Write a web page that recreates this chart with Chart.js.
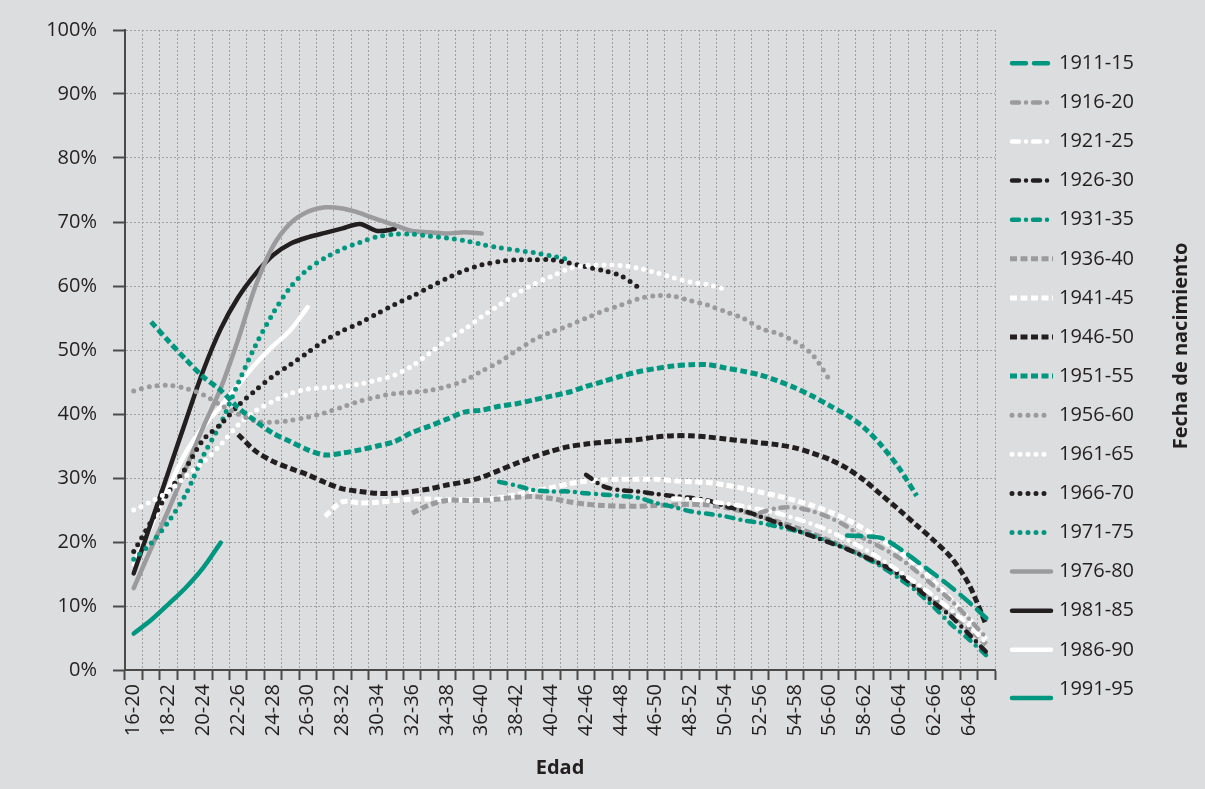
<!DOCTYPE html>
<html><head><meta charset="utf-8">
<script src="https://cdn.jsdelivr.net/npm/chart.js@4"></script>
<style>
html,body{margin:0;padding:0;background:#dcdddf;}
#wrap{position:relative;width:1205px;height:789px;}
</style></head><body>
<div id="wrap"><canvas id="c"></canvas></div>
<script>
const N = null;
const ages = ['16-20','17-21','18-22','19-23','20-24','21-25','22-26','23-27','24-28','25-29',
 '26-30','27-31','28-32','29-33','30-34','31-35','32-36','33-37','34-38','35-39',
 '36-40','37-41','38-42','39-43','40-44','41-45','42-46','43-47','44-48','45-49',
 '46-50','47-51','48-52','49-53','50-54','51-55','52-56','53-57','54-58','55-59',
 '56-60','57-61','58-62','59-63','60-64','61-65','62-66','63-67','64-68','65-69'];
const yTicks = [0,10,20,30,40,50,60,70,80,90,100];
const cohorts = ['1911-15','1916-20','1921-25','1926-30','1931-35','1936-40','1941-45','1946-50','1951-55',
 '1956-60','1961-65','1966-70','1971-75','1976-80','1981-85','1986-90','1991-95'];

const s1911 = [N,N,N,N,N,N,N,N,N,N, N,N,N,N,N,N,N,N,N,N, N,N,N,N,N,N,N,N,N,N, N,N,N,N,N,N,N,N,N,N, N,
 21.0,20.9,20.6,19.0,17.0,15.0,12.9,10.6,8.1];
const s1916 = [N,N,N,N,N,N,N,N,N,N, N,N,N,N,N,N,N,N,N,N, N,N,N,N,N,N,N,N,N,N, N,N,N,N,N,N,
 24.6,25.3,25.4,24.8,23.8,22.4,20.5,19.1,17.5,15.4,13.1,10.8,8.0,5.0];
const s1921 = [N,N,N,N,N,N,N,N,N,N, N,N,N,N,N,N,N,N,N,N, N,N,N,N,N,N,N,N,N,N, N,
 26.8,26.7,26.4,26.0,25.6,25.1,24.5,23.7,22.8,21.7,20.3,18.9,17.2,15.4,13.5,11.5,9.3,7.0,4.2];
const s1926 = [N,N,N,N,N,N,N,N,N,N, N,N,N,N,N,N,N,N,N,N, N,N,N,N,N,N,
 30.5,28.7,28.1,27.9,27.5,27.2,26.9,26.5,25.6,24.9,24.0,23.0,21.9,20.9,19.9,18.9,17.7,16.5,14.9,12.8,10.5,8.3,5.6,2.8];
const s1931 = [N,N,N,N,N,N,N,N,N,N, N,N,N,N,N,N,N,N,N,N, N,
 29.4,28.8,28.1,27.9,27.9,27.6,27.4,27.2,26.9,26.1,25.5,24.8,24.4,24.0,23.4,23.0,22.4,21.8,21.0,20.0,18.9,17.6,16.1,14.3,12.3,9.8,7.1,4.8,2.3];
const s1936 = [N,N,N,N,N,N,N,N,N,N, N,N,N,N,N,N,
 24.5,25.8,26.5,26.5,26.5,26.7,27.0,27.1,26.8,26.3,25.9,25.7,25.6,25.6,25.7,25.8,25.9,25.8,25.4,24.8,24.0,23.2,22.3,21.3,20.2,19.0,17.8,16.4,14.8,13.0,11.0,8.8,6.5,4.0];
const s1941 = [N,N,N,N,N,N,N,N,N,N, N,
 24.0,26.3,26.1,26.2,26.5,26.7,26.7,26.6,26.6,26.6,26.9,27.4,28.0,28.5,29.1,29.5,29.7,29.8,29.8,29.8,29.6,29.4,29.3,28.9,28.4,27.8,27.2,26.5,25.7,24.7,23.5,22.0,20.3,18.5,16.3,13.8,11.0,8.0,4.8];
const s1946 = [N,N,N,N,N,N,
 36.8,34.2,32.6,31.5,30.5,29.3,28.3,27.9,27.6,27.6,27.9,28.3,28.9,29.4,30.1,31.2,32.3,33.3,34.2,34.9,35.3,35.6,35.8,36.0,36.4,36.6,36.6,36.4,36.1,35.8,35.5,35.2,34.7,33.9,32.9,31.5,29.6,27.3,25.0,22.6,20.2,17.5,13.4,7.0];
const s1951 = [N,
 54.4,51.4,48.5,45.8,43.7,41.0,38.9,37.0,35.7,34.4,33.6,33.9,34.4,35.0,35.7,37.1,38.1,39.2,40.3,40.6,41.2,41.6,42.2,42.8,43.4,44.3,45.1,45.9,46.6,47.1,47.5,47.7,47.7,47.2,46.7,46.1,45.2,44.1,42.8,41.3,39.8,37.8,35.0,31.5,27.2,
 N,N,N,N];
const s1956 = [43.6,44.3,44.5,44.0,43.0,41.4,40.0,38.9,38.7,39.0,39.5,40.2,41.1,42.0,42.7,43.2,43.4,43.7,44.3,45.2,46.7,48.1,49.9,51.6,52.8,53.8,55.0,56.1,57.0,58.0,58.5,58.4,57.7,57.0,56.0,55.0,53.4,52.6,51.3,49.3,45.3,
 N,N,N,N,N,N,N,N,N];
const s1961 = [25.0,26.3,27.9,30.3,32.5,35.2,38.3,40.5,42.0,43.2,43.9,44.1,44.3,44.7,45.3,46.1,47.5,49.5,51.6,53.2,55.2,57.0,58.8,60.3,61.5,62.7,63.2,63.3,63.2,62.8,62.1,61.3,60.6,60.2,59.5,
 N,N,N,N,N,N,N,N,N,N, N,N,N,N,N];
const s1966 = [18.5,23.2,27.8,31.6,36.0,38.4,41.3,43.7,45.9,47.7,49.6,51.5,53.0,54.2,55.7,57.1,58.4,59.8,61.2,62.4,63.3,63.8,64.1,64.1,64.1,63.6,63.0,62.4,61.6,59.8,
 N,N,N,N,N,N,N,N,N,N, N,N,N,N,N,N,N,N,N,N];
const s1971 = [17.3,19.8,23.2,27.5,33.5,38.5,44.8,50.7,55.7,59.8,62.6,64.4,65.8,66.8,67.7,68.1,68.1,67.8,67.5,67.1,66.5,66.0,65.6,65.2,64.7,64.1,
 N,N,N,N,N,N,N,N,N,N, N,N,N,N,N,N,N,N,N,N, N,N,N,N];
const s1976 = [12.8,19.0,25.0,31.5,38.0,44.0,51.6,60.0,66.2,69.8,71.6,72.3,72.1,71.4,70.4,69.5,68.6,68.4,68.2,68.4,68.2,
 N,N,N,N,N,N,N,N,N,N, N,N,N,N,N,N,N,N,N,N, N,N,N,N,N,N,N,N,N];
const s1981 = [15.1,23.0,31.0,39.0,46.8,53.3,58.2,61.9,64.8,66.6,67.6,68.3,69.0,69.7,68.6,68.9,
 N,N,N,N,N,N,N,N,N,N, N,N,N,N,N,N,N,N,N,N, N,N,N,N,N,N,N,N,N,N, N,N,N,N];
const s1986 = [16.5,22.5,28.5,34.0,38.0,41.2,44.5,47.8,50.6,53.1,56.7,
 N,N,N,N,N,N,N,N,N,N, N,N,N,N,N,N,N,N,N,N, N,N,N,N,N,N,N,N,N,N, N,N,N,N,N,N,N,N,N];
const s1991 = [5.7,7.8,10.3,12.9,16.0,19.9,
 N,N,N,N,N,N,N,N,N,N, N,N,N,N,N,N,N,N,N,N, N,N,N,N,N,N,N,N,N,N, N,N,N,N,N,N,N,N,N,N, N,N,N,N];

const seriesValues = [s1911,s1916,s1921,s1926,s1931,s1936,s1941,s1946,s1951,s1956,s1961,s1966,s1971,s1976,s1981,s1986,s1991];

const TEAL = '#00967f', GRAY = '#9b9b9d', BLACK = '#231f20', WHITE = '#ffffff';
const colors = [TEAL,GRAY,WHITE,BLACK,TEAL,GRAY,WHITE,BLACK,TEAL,GRAY,WHITE,BLACK,TEAL,GRAY,BLACK,WHITE,TEAL];
const STYLE = {
  longdash: {dash:[14,8], cap:'round', w:4.5},
  dashdot:  {dash:[7,7,0,7], cap:'round', w:4.5},
  square:   {dash:[7,3.5], cap:'butt', w:5},
  dot:      {dash:[0,8], cap:'round', w:5},
  solid:    {dash:[], cap:'round', w:4.5}
};
const kinds = ['longdash','dashdot','dashdot','dashdot','dashdot','square','square','square','square',
 'dot','dot','dot','dot','solid','solid','solid','solid'];

const datasets = cohorts.map((name,k)=>{
  const st = STYLE[kinds[k]];
  return {label:name, data:seriesValues[k], borderColor:colors[k], backgroundColor:colors[k],
    borderWidth:st.w, borderDash:st.dash, borderCapStyle:st.cap, borderJoinStyle:'round',
    pointRadius:0, tension:0.3, spanGaps:false, fill:false};
});

const sideLegend = {
  id:'sideLegend',
  afterDraw(chart){
    const ctx = chart.ctx;
    ctx.save();
    chart.data.datasets.forEach((ds,k)=>{
      const y = 63.3 + 39.1*k;
      const ly = y + (k===16 ? 9 : 0);
      ctx.beginPath();
      ctx.strokeStyle = ds.borderColor;
      ctx.lineWidth = ds.borderWidth;
      ctx.setLineDash(ds.borderDash);
      ctx.lineCap = ds.borderCapStyle;
      const round = ds.borderCapStyle==='round';
      ctx.moveTo(round?1012:1010, ly); ctx.lineTo(round?1051:1053, ly); ctx.stroke();
      ctx.setLineDash([]);
      ctx.fillStyle = '#231f20';
      ctx.font = '20px "Open Sans"';
      ctx.textBaseline = 'middle'; ctx.textAlign = 'left';
      ctx.fillText(ds.label, 1059, y);
    });
    ctx.translate(1181, 346);
    ctx.rotate(-Math.PI/2);
    ctx.font = 'bold 20px "Open Sans"';
    ctx.textAlign = 'center'; ctx.textBaseline = 'middle';
    ctx.fillStyle = '#231f20';
    ctx.fillText('Fecha de nacimiento', 0, 0);
    ctx.restore();
  }
};

Chart.defaults.font.family = '"Open Sans"';
Chart.defaults.font.size = 20;
Chart.defaults.color = '#231f20';

new Chart(document.getElementById('c'), {
  type:'line',
  data:{labels:ages, datasets},
  plugins:[sideLegend],
  options:{
    responsive:true, maintainAspectRatio:false, animation:false,
    layout:{padding:{left:0, top:30, right:210, bottom:0}},
    plugins:{legend:{display:false}, tooltip:{enabled:false}},
    scales:{
      x:{
        offset:true,
        grid:{offset:true, color:'#a0a0a0', lineWidth:1, tickLength:10, tickColor:'#4a4a4a', tickWidth:2, tickBorderDash:[]},
        border:{color:'#4a4a4a', width:2, dash:[2,2]},
        ticks:{autoSkip:false, maxRotation:90, minRotation:90, padding:4,
          callback:(v,i)=> i%2===0 ? ages[i] : ''},
        title:{display:true, text:'Edad', font:{weight:'bold', size:20}, padding:{top:0, bottom:9}},
        afterFit:(s)=>{ s.height = 119; }
      },
      y:{
        min:0, max:100,
        afterBuildTicks:(s)=>{ s.ticks = yTicks.map(v=>({value:v})); },
        grid:{color:'#a0a0a0', lineWidth:1, tickLength:12, tickColor:'#4a4a4a', tickWidth:2, tickBorderDash:[]},
        border:{color:'#4a4a4a', width:2, dash:[2,2]},
        ticks:{padding:16, callback:(v)=> v + '%'},
        afterFit:(s)=>{ s.width = 125; }
      }
    }
  }
});
</script>
</body></html>
